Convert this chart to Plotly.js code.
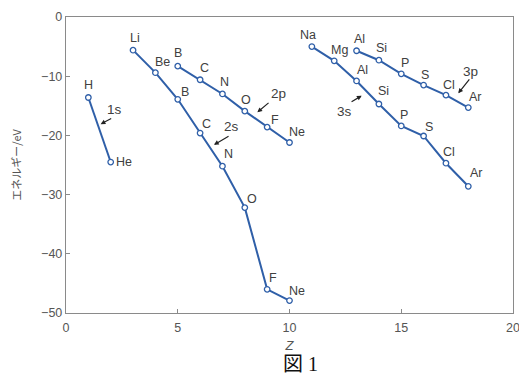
<!DOCTYPE html>
<html>
<head>
<meta charset="utf-8">
<script src="https://cdn.plot.ly/plotly-3.0.1.min.js"></script>
<style>html,body{margin:0;padding:0;background:#fff;}#chart{width:519px;height:376px;}</style>
</head>
<body>
<div id="chart"></div>
<script>
// ---- data ----
const z1s = [1, 2];
const e1s = [-13.6, -24.5];
const el1s = ["H", "He"];

const z2s = [3, 4, 5, 6, 7, 8, 9, 10];
const e2s = [-5.6, -9.4, -13.9, -19.6, -25.2, -32.2, -46.0, -47.9];
const el2s = ["Li", "Be", "B", "C", "N", "O", "F", "Ne"];

const z2p = [5, 6, 7, 8, 9, 10];
const e2p = [-8.3, -10.6, -13.0, -15.9, -18.6, -21.2];
const el2p = ["B", "C", "N", "O", "F", "Ne"];

const z3s = [11, 12, 13, 14, 15, 16, 17, 18];
const e3s = [-5.0, -7.4, -10.8, -14.7, -18.4, -20.1, -24.7, -28.6];
const el3s = ["Na", "Mg", "Al", "Si", "P", "S", "Cl", "Ar"];

const z3p = [13, 14, 15, 16, 17, 18];
const e3p = [-5.7, -7.3, -9.6, -11.5, -13.2, -15.3];
const el3p = ["Al", "Si", "P", "S", "Cl", "Ar"];

const orbitalNames = ["1s", "2s", "2p", "3s", "3p"];
const xTicks = [0, 5, 10, 15, 20];
const yTicks = [0, -10, -20, -30, -40, -50];

// ---- label placement (pixel offsets from each point) ----
const off1s = [[0, 13], [13, 0]];
const off2s = [[2, 12], [7, 11], [7, 7], [6, 9], [6, 12], [7, 9], [6, 11], [7, 10]];
const off2p = [[0, 13], [4, 12], [2, 12], [1, 11], [8, 7], [7, 11]];
const off3s = [[-4, 12], [5, 11], [6, 11], [5, 13], [3, 11], [5, 9], [3, 11], [8, 13]];
const off3p = [[3, 12], [3, 12], [4, 11], [1, 10], [3, 10], [7, 11]];

// orbital label positions and arrows (data coordinates): [textX, textY, tailX, tailY, tipX, tipY]
const orbitalMarks = [
  [2.19, -15.7, 2.09, -17.0, 1.55, -18.1],
  [7.41, -18.5, 7.34, -20.0, 6.62, -21.6],
  [9.50, -12.9, 9.13, -14.3, 8.56, -16.1],
  [12.48, -16.0, 12.71, -14.45, 13.23, -13.3],
  [18.08, -9.2, 18.10, -10.3, 17.55, -12.9]
];

const lineColor = "#2f5fa8";
const series = [
  [z1s, e1s, el1s, off1s],
  [z2s, e2s, el2s, off2s],
  [z2p, e2p, el2p, off2p],
  [z3s, e3s, el3s, off3s],
  [z3p, e3p, el3p, off3p]
];

const traces = series.map((s, i) => ({
  x: s[0], y: s[1], type: "scatter", mode: "lines+markers",
  name: orbitalNames[i],
  line: {color: lineColor, width: 2},
  marker: {symbol: "circle", size: 5.5, color: "#ffffff", line: {color: lineColor, width: 1.3}},
  showlegend: false, hoverinfo: "skip", cliponaxis: false
}));

const annotations = [];
const labelFont = {family: "Liberation Sans, Arial, sans-serif", size: 12.5, color: "#404040"};
series.forEach(s => {
  s[0].forEach((zv, j) => {
    annotations.push({
      x: zv, y: s[1][j], xref: "x", yref: "y", text: s[2][j], showarrow: false,
      xshift: s[3][j][0], yshift: s[3][j][1], xanchor: "center", yanchor: "middle",
      font: labelFont
    });
  });
});
orbitalMarks.forEach((m, i) => {
  annotations.push({
    x: m[0], y: m[1], xref: "x", yref: "y", text: orbitalNames[i], showarrow: false,
    xanchor: "center", yanchor: "middle",
    font: {family: "Liberation Sans, Arial, sans-serif", size: 13.5, color: "#404040"}
  });
  annotations.push({
    x: m[4], y: m[5], ax: m[2], ay: m[3], xref: "x", yref: "y", axref: "x", ayref: "y",
    text: "", showarrow: true, arrowhead: 2, arrowsize: 0.8, arrowwidth: 1.2,
    arrowcolor: "#222222", standoff: 0, startstandoff: 0
  });
});
annotations.push({
  x: 0.5235, y: -0.172, xref: "paper", yref: "paper", text: "図 1", showarrow: false,
  xanchor: "center", yanchor: "middle",
  font: {family: "Liberation Serif, Noto Sans CJK JP, serif", size: 20, color: "#111111"}
});

const axisCommon = {
  showgrid: false, zeroline: false, showline: true, mirror: true,
  linecolor: "#8a8a8a", linewidth: 1.2,
  ticks: "inside", ticklen: 4, tickcolor: "#8a8a8a", tickwidth: 1,
  ticklabeloverflow: "allow",
  tickfont: {family: "Liberation Sans, Arial, sans-serif", size: 12.5, color: "#555555"}
};

const layout = {
  width: 519, height: 376,
  margin: {l: 66, r: 6, t: 17, b: 63},
  paper_bgcolor: "#ffffff", plot_bgcolor: "#ffffff",
  xaxis: Object.assign({}, axisCommon, {
    range: [0, 20], tickvals: xTicks, ticktext: xTicks.map(String), ticklabelstandoff: 3,
    title: {text: "<i>Z</i>", font: {family: "Liberation Sans, Arial, sans-serif", size: 13, color: "#555555"}, standoff: 6}
  }),
  yaxis: Object.assign({}, axisCommon, {
    range: [-50, 0], tickvals: yTicks,
    title: {text: "エネルギー/eV", font: {family: "Noto Sans CJK JP, sans-serif", size: 11, color: "#555555"}, standoff: 17}
  }),
  annotations: annotations
};

Plotly.newPlot("chart", traces, layout, {displayModeBar: false, staticPlot: true});
</script>
</body>
</html>
